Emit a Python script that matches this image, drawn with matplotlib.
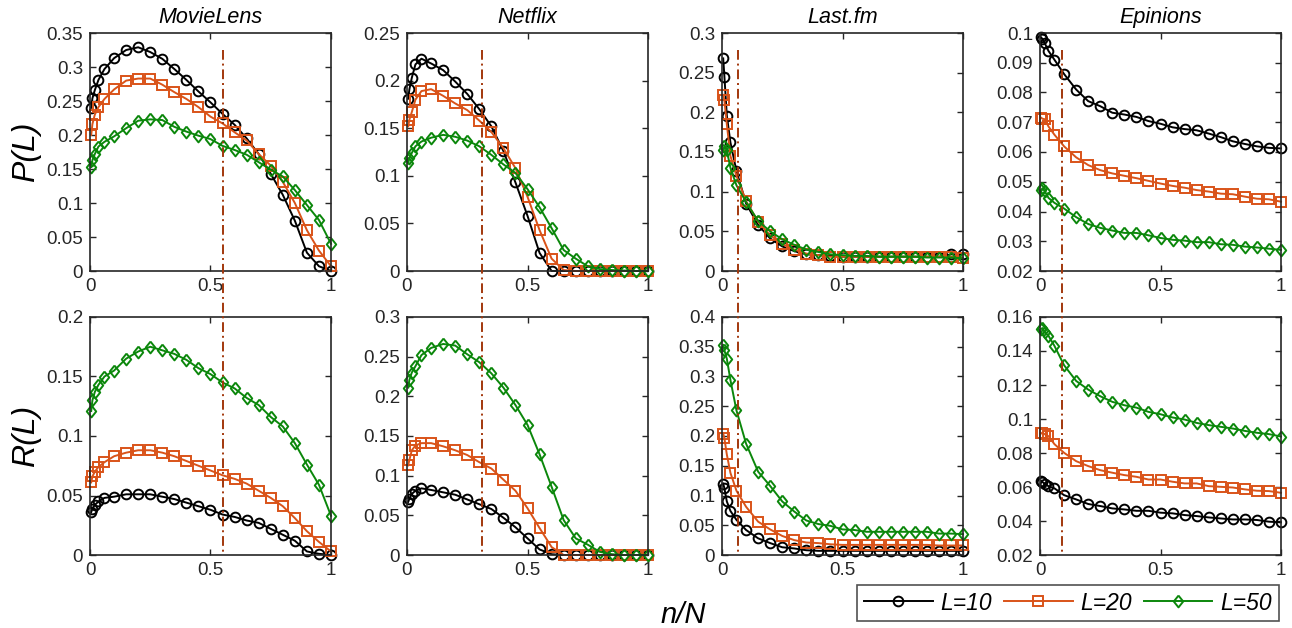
import numpy as np
import matplotlib
matplotlib.use('Agg')
import matplotlib.pyplot as plt
from matplotlib.lines import Line2D
from matplotlib.ticker import MultipleLocator, FuncFormatter
from matplotlib.transforms import blended_transform_factory

plt.rcParams['font.family'] = ['Liberation Sans', 'DejaVu Sans']

# fraction of users n/N at which each curve is sampled
n_frac = [0.005, 0.01, 0.02, 0.035, 0.06, 0.1, 0.15, 0.2, 0.25, 0.3, 0.35, 0.4,
          0.45, 0.5, 0.55, 0.6, 0.65, 0.7, 0.75, 0.8, 0.85, 0.9, 0.95, 1.0]

datasets = ['MovieLens', 'Netflix', 'Last.fm', 'Epinions']
list_lengths = [10, 20, 50]
n_cut = [0.55, 0.31, 0.066, 0.093]

# precision P(L)
movielens_p10 = [0.240, 0.254, 0.266, 0.281, 0.297, 0.313, 0.325, 0.329, 0.322, 0.312, 0.297, 0.281,
                 0.264, 0.248, 0.231, 0.215, 0.195, 0.172, 0.143, 0.112, 0.074, 0.027, 0.007, 0.0]
movielens_p20 = [0.200, 0.216, 0.230, 0.241, 0.253, 0.267, 0.280, 0.283, 0.283, 0.274, 0.263, 0.253,
                 0.241, 0.227, 0.217, 0.204, 0.192, 0.172, 0.155, 0.131, 0.100, 0.060, 0.030, 0.007]
movielens_p50 = [0.153, 0.163, 0.172, 0.183, 0.190, 0.198, 0.210, 0.221, 0.223, 0.222, 0.212, 0.205,
                 0.199, 0.194, 0.184, 0.178, 0.171, 0.160, 0.149, 0.139, 0.119, 0.097, 0.075, 0.040]

netflix_p10 = [0.181, 0.191, 0.203, 0.217, 0.223, 0.218, 0.211, 0.199, 0.186, 0.170, 0.152, 0.126,
               0.093, 0.058, 0.019, 0.0, 0.0, 0.0, 0.0, 0.0, 0.0, 0.0, 0.0, 0.0]
netflix_p20 = [0.152, 0.159, 0.167, 0.180, 0.189, 0.191, 0.184, 0.176, 0.169, 0.158, 0.146, 0.129,
               0.108, 0.078, 0.043, 0.013, 0.001, 0.0, 0.0, 0.0, 0.0, 0.0, 0.0, 0.0]
netflix_p50 = [0.113, 0.119, 0.124, 0.131, 0.136, 0.140, 0.143, 0.141, 0.137, 0.131, 0.122, 0.112,
               0.103, 0.086, 0.067, 0.045, 0.022, 0.013, 0.005, 0.002, 0.001, 0.0005, 0.0, 0.0]

lastfm_p10 = [0.268, 0.245, 0.196, 0.162, 0.126, 0.085, 0.058, 0.041, 0.031, 0.025, 0.021, 0.020,
              0.019, 0.018, 0.018, 0.018, 0.018, 0.018, 0.018, 0.018, 0.018, 0.018, 0.021, 0.021]
lastfm_p20 = [0.222, 0.215, 0.185, 0.145, 0.120, 0.088, 0.062, 0.045, 0.034, 0.027, 0.022, 0.020,
              0.018, 0.018, 0.018, 0.018, 0.018, 0.018, 0.018, 0.018, 0.018, 0.018, 0.018, 0.017]
lastfm_p50 = [0.153, 0.157, 0.152, 0.130, 0.108, 0.087, 0.063, 0.050, 0.040, 0.033, 0.027, 0.024,
              0.021, 0.020, 0.019, 0.019, 0.018, 0.018, 0.018, 0.018, 0.017, 0.017, 0.017, 0.016]

epinions_p10 = [0.0985, 0.0980, 0.0965, 0.0940, 0.0910, 0.0862, 0.0810, 0.0771, 0.0754, 0.0732, 0.0726, 0.0718,
                0.0704, 0.0695, 0.0683, 0.0677, 0.0673, 0.0662, 0.0650, 0.0636, 0.0627, 0.0619, 0.0614, 0.0612]
epinions_p20 = [0.0715, 0.0712, 0.0710, 0.0686, 0.0658, 0.0619, 0.0582, 0.0556, 0.0539, 0.0528, 0.0520, 0.0512,
                0.0503, 0.0494, 0.0486, 0.0480, 0.0472, 0.0467, 0.0460, 0.0458, 0.0450, 0.0443, 0.0441, 0.0433]
epinions_p50 = [0.0472, 0.0478, 0.0468, 0.0446, 0.0429, 0.0410, 0.0381, 0.0358, 0.0345, 0.0336, 0.0328, 0.0328,
                0.0320, 0.0311, 0.0305, 0.0302, 0.0297, 0.0297, 0.0290, 0.0288, 0.0282, 0.0279, 0.0275, 0.0271]

# recall R(L)
movielens_r10 = [0.036, 0.039, 0.042, 0.045, 0.048, 0.049, 0.051, 0.051, 0.051, 0.049, 0.047, 0.044,
                 0.041, 0.038, 0.034, 0.032, 0.029, 0.027, 0.022, 0.017, 0.012, 0.003, 0.001, 0.0]
movielens_r20 = [0.061, 0.066, 0.070, 0.074, 0.078, 0.083, 0.086, 0.088, 0.088, 0.086, 0.083, 0.079,
                 0.075, 0.071, 0.067, 0.064, 0.060, 0.054, 0.048, 0.041, 0.031, 0.020, 0.011, 0.003]
movielens_r50 = [0.121, 0.130, 0.137, 0.143, 0.150, 0.155, 0.165, 0.171, 0.175, 0.172, 0.169, 0.164,
                 0.157, 0.152, 0.145, 0.140, 0.132, 0.126, 0.116, 0.108, 0.094, 0.076, 0.059, 0.033]

netflix_r10 = [0.067, 0.071, 0.077, 0.081, 0.084, 0.082, 0.079, 0.076, 0.070, 0.064, 0.058, 0.047,
               0.035, 0.021, 0.007, 0.001, 0.0, 0.0, 0.0, 0.0, 0.0, 0.0, 0.0, 0.0]
netflix_r20 = [0.113, 0.120, 0.132, 0.138, 0.141, 0.141, 0.137, 0.132, 0.126, 0.117, 0.109, 0.095,
               0.081, 0.059, 0.034, 0.010, 0.0, 0.0, 0.0, 0.0, 0.0, 0.0, 0.0, 0.0]
netflix_r50 = [0.211, 0.221, 0.230, 0.238, 0.252, 0.261, 0.266, 0.264, 0.253, 0.243, 0.229, 0.211,
               0.189, 0.164, 0.127, 0.086, 0.044, 0.021, 0.013, 0.004, 0.001, 0.0, 0.0, 0.0]

lastfm_r10 = [0.120, 0.112, 0.090, 0.074, 0.059, 0.042, 0.028, 0.020, 0.013, 0.011, 0.008, 0.007,
              0.007, 0.007, 0.007, 0.007, 0.007, 0.007, 0.007, 0.007, 0.007, 0.007, 0.007, 0.007]
lastfm_r20 = [0.204, 0.196, 0.169, 0.138, 0.108, 0.081, 0.056, 0.043, 0.032, 0.025, 0.021, 0.020,
              0.018, 0.017, 0.017, 0.017, 0.017, 0.017, 0.017, 0.017, 0.017, 0.016, 0.016, 0.016]
lastfm_r50 = [0.353, 0.344, 0.330, 0.294, 0.243, 0.187, 0.140, 0.116, 0.090, 0.073, 0.058, 0.052,
              0.049, 0.043, 0.042, 0.039, 0.039, 0.039, 0.039, 0.039, 0.039, 0.036, 0.036, 0.035]

epinions_r10 = [0.0637, 0.0630, 0.0618, 0.0605, 0.0592, 0.0552, 0.0527, 0.0500, 0.0488, 0.0474, 0.0468, 0.0460,
                0.0460, 0.0449, 0.0445, 0.0435, 0.0429, 0.0421, 0.0415, 0.0409, 0.0409, 0.0406, 0.0396, 0.0392]
epinions_r20 = [0.0915, 0.0920, 0.0910, 0.0899, 0.0852, 0.0801, 0.0752, 0.0723, 0.0699, 0.0684, 0.0670, 0.0660,
                0.0644, 0.0644, 0.0631, 0.0621, 0.0621, 0.0605, 0.0601, 0.0597, 0.0586, 0.0578, 0.0576, 0.0566]
epinions_r50 = [0.1530, 0.1535, 0.1510, 0.1490, 0.1430, 0.1316, 0.1224, 0.1173, 0.1134, 0.1101, 0.1081, 0.1067,
                0.1042, 0.1028, 0.1009, 0.0997, 0.0977, 0.0964, 0.0954, 0.0944, 0.0930, 0.0919, 0.0911, 0.0897]

precision = [
    [movielens_p10, movielens_p20, movielens_p50],
    [netflix_p10, netflix_p20, netflix_p50],
    [lastfm_p10, lastfm_p20, lastfm_p50],
    [epinions_p10, epinions_p20, epinions_p50],
]
recall = [
    [movielens_r10, movielens_r20, movielens_r50],
    [netflix_r10, netflix_r20, netflix_r50],
    [lastfm_r10, lastfm_r20, lastfm_r50],
    [epinions_r10, epinions_r20, epinions_r50],
]

# (ymin, ymax, tick step) for each panel
p_limits = [(0, 0.35, 0.05), (0, 0.25, 0.05), (0, 0.3, 0.05), (0.02, 0.1, 0.01)]
r_limits = [(0, 0.2, 0.05), (0, 0.3, 0.05), (0, 0.4, 0.05), (0.02, 0.16, 0.02)]

DIAMOND = [(0, 1), (0.8, 0), (0, -1), (-0.8, 0), (0, 1)]
line_styles = [
    dict(color='#000000', marker='o', markersize=7),
    dict(color='#D95319', marker='s', markersize=6.5),
    dict(color='#0B870B', marker=DIAMOND, markersize=8.5),
]
AXIS_GRAY = '#262626'
CUT_COLOR = '#A2370C'

W, H = 1292, 628
col_left = [90, 407, 722, 1040]
col_width = 241
row_top = [33, 317]
row_height = [238, 238]


def style_axes(ax, ylim):
    """
    MATLAB-like box axes with inward ticks on all four sides
    """
    y_min, y_max, y_step = ylim
    ax.set_xlim(0, 1)
    ax.set_ylim(y_min, y_max)
    ax.xaxis.set_major_locator(MultipleLocator(0.5))
    ax.yaxis.set_major_locator(MultipleLocator(y_step))
    fmt = FuncFormatter(lambda v, _: '%g' % round(v, 4))
    ax.xaxis.set_major_formatter(fmt)
    ax.yaxis.set_major_formatter(fmt)
    ax.tick_params(direction='in', length=4, width=1.0, top=True, right=True,
                   labelsize=13.5, colors=AXIS_GRAY, pad=5)
    for spine in ax.spines.values():
        spine.set_color(AXIS_GRAY)
        spine.set_linewidth(1.2)


fig = plt.figure(figsize=(W / 100.0, H / 100.0), dpi=100)

axes = []
for row in range(2):
    row_axes = []
    for col in range(4):
        rect = [col_left[col] / W, 1 - (row_top[row] + row_height[row]) / H,
                col_width / W, row_height[row] / H]
        ax = fig.add_axes(rect)
        data = precision[col] if row == 0 else recall[col]
        limits = p_limits[col] if row == 0 else r_limits[col]
        for i, values in enumerate(data):
            ax.plot(n_frac, values, linewidth=1.4, markerfacecolor='none',
                    markeredgewidth=1.4, label='L=%d' % list_lengths[i],
                    clip_on=False, **line_styles[i])
        style_axes(ax, limits)
        row_axes.append(ax)
    axes.append(row_axes)

for col in range(4):
    axes[0][col].set_title(datasets[col], fontsize=15.5, style='italic', pad=7)

    # dash-dot cut-off line running through both rows
    trans = blended_transform_factory(axes[0][col].transData, fig.transFigure)
    y_top = 1 - 50 / H
    y_bot = 1 - (row_top[1] + row_height[1]) / H
    fig.add_artist(Line2D([n_cut[col], n_cut[col]], [y_top, y_bot], transform=trans,
                          color=CUT_COLOR, linewidth=1.4, linestyle=(0, (5, 2, 1, 2))))

axes[0][0].set_ylabel('P(L)', fontsize=23, style='italic', labelpad=4)
axes[1][0].set_ylabel('R(L)', fontsize=23, style='italic', labelpad=4)

fig.text(683 / W, 1 - 615 / H, 'n/N', fontsize=21, style='italic', ha='center', va='center')

handles, labels = axes[0][0].get_legend_handles_labels()
leg = fig.legend(handles, labels, loc='center', ncol=3,
                 bbox_to_anchor=((858 + 1278) / 2 / W, 1 - 603 / H),
                 prop=dict(family='Liberation Sans', style='italic', size=16.5),
                 frameon=True, fancybox=False, handlelength=3.0, handletextpad=0.35,
                 columnspacing=0.5, borderpad=0.3, borderaxespad=0)
leg.get_frame().set_edgecolor(AXIS_GRAY)
leg.get_frame().set_linewidth(1.2)

plt.savefig('out.png', dpi=100)
plt.close()
